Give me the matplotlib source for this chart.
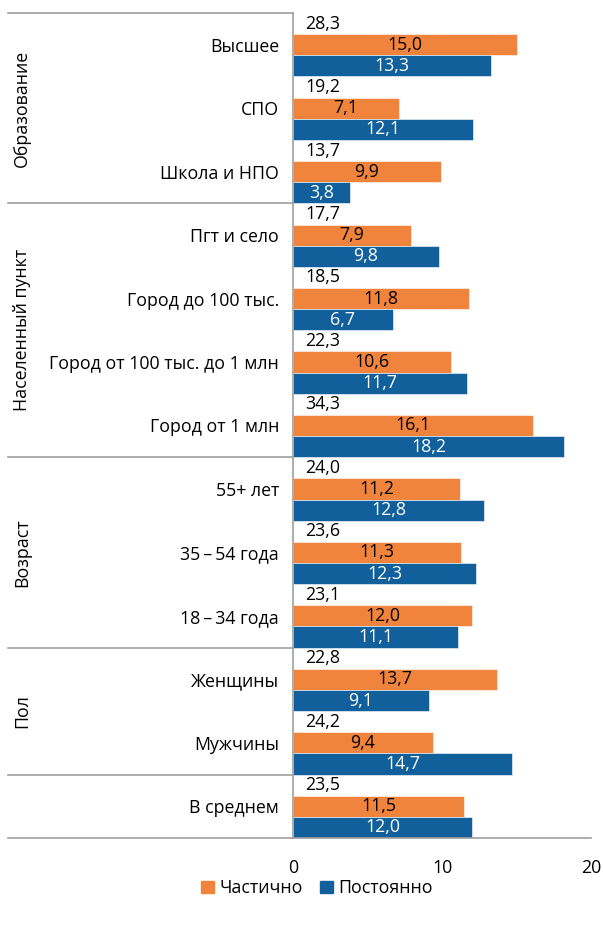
import matplotlib.pyplot as plt
from matplotlib.transforms import blended_transform_factory
from matplotlib.patches import Patch

plt.rcParams['font.family'] = ['Open Sans', 'DejaVu Sans']

categories = ['Высшее', 'СПО', 'Школа и НПО',
              'Пгт и село', 'Город до 100 тыс.', 'Город от 100 тыс. до 1 млн', 'Город от 1 млн',
              '55+ лет', '35\u2009–\u200954 года', '18\u2009–\u200934 года',
              'Женщины', 'Мужчины',
              'В среднем']
total = [28.3, 19.2, 13.7, 17.7, 18.5, 22.3, 34.3, 24.0, 23.6, 23.1, 22.8, 24.2, 23.5]
partial = [15.0, 7.1, 9.9, 7.9, 11.8, 10.6, 16.1, 11.2, 11.3, 12.0, 13.7, 9.4, 11.5]
constant = [13.3, 12.1, 3.8, 9.8, 6.7, 11.7, 18.2, 12.8, 12.3, 11.1, 9.1, 14.7, 12.0]
groups = ['Образование', 'Населенный пункт', 'Возраст', 'Пол', '']
group_sizes = [3, 4, 3, 2, 1]

ORANGE = '#F1843D'
BLUE = '#12609B'
GREY = '#A0A0A0'
FS = 12.8


def fmt(v):
    return f'{v:.1f}'.replace('.', ',')


fig = plt.figure(figsize=(6.03, 9.25), dpi=100)
ax = fig.add_axes([293 / 603, 1 - 838 / 925, (591 - 293) / 603, (838 - 13) / 925])

n = len(categories)
for i in range(n):
    y0 = i * 3
    ax.text(0.8, y0 + 0.5, fmt(total[i]), ha='left', va='center', fontsize=FS)
    ax.barh(y0 + 1.5, partial[i], height=1.0, color=ORANGE, edgecolor='white', linewidth=0.4)
    ax.text(partial[i] / 2, y0 + 1.5, fmt(partial[i]), ha='center', va='center', fontsize=FS, color='black')
    ax.barh(y0 + 2.5, constant[i], height=1.0, color=BLUE, edgecolor='white', linewidth=0.4)
    ax.text(constant[i] / 2, y0 + 2.5, fmt(constant[i]), ha='center', va='center', fontsize=FS, color='white')

ax.set_xlim(0, 20)
ax.set_ylim(n * 3, 0)
ax.set_xticks([0, 10, 20])
ax.set_xticklabels(['0', '10', '20'], fontsize=FS)
ax.set_yticks([i * 3 + 1.5 for i in range(n)])
ax.set_yticklabels(categories, fontsize=FS)
ax.tick_params(axis='both', length=0)
ax.tick_params(axis='y', pad=10)
ax.tick_params(axis='x', pad=15)
for s in ['top', 'right']:
    ax.spines[s].set_visible(False)
for s in ['left', 'bottom']:
    ax.spines[s].set_color(GREY)
    ax.spines[s].set_linewidth(1.2)

# group separators and rotated group labels
tr = blended_transform_factory(fig.transFigure, ax.transData)
pos = 0
ax.plot([8 / 603, 293 / 603], [0, 0], transform=tr, color=GREY, lw=1.2, clip_on=False)
for name, size in zip(groups, group_sizes):
    start = pos
    pos += size * 3
    ax.plot([8 / 603, 293 / 603], [pos, pos], transform=tr, color=GREY, lw=1.2, clip_on=False)
    if name:
        ax.text(22 / 603, (start + pos) / 2, name, transform=tr, rotation=90,
                ha='center', va='center', fontsize=FS)

handles = [Patch(color=ORANGE, label='Частично'), Patch(color=BLUE, label='Постоянно')]
fig.legend(handles=handles, loc='center', bbox_to_anchor=(317 / 603, 1 - 888 / 925), ncol=2,
           frameon=False, fontsize=FS, handlelength=0.7, handleheight=0.7,
           handletextpad=0.3, columnspacing=1.0)

fig.savefig('out.png', dpi=100)
